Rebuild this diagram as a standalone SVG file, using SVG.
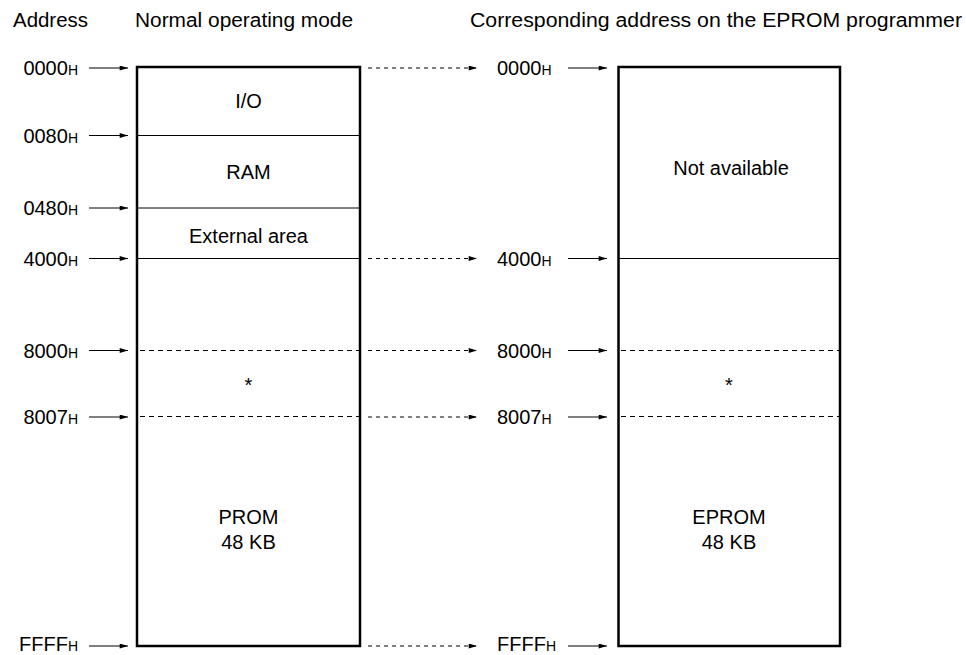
<svg xmlns="http://www.w3.org/2000/svg" width="966" height="655" viewBox="0 0 966 655">
<style>
text{font-family:"Liberation Sans",Arial,sans-serif;font-size:20px;fill:#000}
.sub{font-size:14px}
.mid{text-anchor:middle}
.end{text-anchor:end}
.box{fill:none;stroke:#000;stroke-width:2.5}
.div{stroke:#000;stroke-width:1}
.dash{stroke:#000;stroke-width:1;stroke-dasharray:5 4}
.arr{stroke:#000;stroke-width:1;marker-end:url(#ah)}
.darr{stroke:#000;stroke-width:1;stroke-dasharray:4 4;marker-end:url(#ah)}
</style>
<defs>
<marker id="ah" viewBox="0 0 10 6" refX="10" refY="3" markerWidth="10" markerHeight="5" markerUnits="userSpaceOnUse" orient="auto">
<path d="M0,0 L10,3 L0,6 z" fill="#000"/>
</marker>
</defs>
<rect width="966" height="655" fill="#fff"/>
<g id="headers">
<text x="13" y="27" textLength="75" lengthAdjust="spacingAndGlyphs">Address</text>
<text x="135" y="27" textLength="218" lengthAdjust="spacingAndGlyphs">Normal operating mode</text>
<text x="470" y="27" textLength="492" lengthAdjust="spacingAndGlyphs">Corresponding address on the EPROM programmer</text>
</g>
<g id="left-memory">
<rect class="box" x="137" y="67" width="223" height="579"/>
<line class="div" x1="137" y1="135.5" x2="360" y2="135.5"/>
<line class="div" x1="137" y1="208" x2="360" y2="208"/>
<line class="div" x1="137" y1="258.5" x2="360" y2="258.5"/>
<line class="dash" x1="140" y1="350.5" x2="360" y2="350.5"/>
<line class="dash" x1="140" y1="416.5" x2="360" y2="416.5"/>
<text class="mid" x="248.5" y="108">I/O</text>
<text class="mid" x="248.5" y="179">RAM</text>
<text class="mid" x="248.5" y="243">External area</text>
<text class="mid" x="248.5" y="392">*</text>
<text class="mid" x="248.5" y="524">PROM</text>
<text class="mid" x="248.5" y="549">48 KB</text>
</g>
<g id="right-memory">
<rect class="box" x="618.5" y="67" width="221.5" height="579"/>
<line class="div" x1="618" y1="258.5" x2="840" y2="258.5"/>
<line class="dash" x1="621" y1="350.5" x2="840" y2="350.5"/>
<line class="dash" x1="621" y1="416.5" x2="840" y2="416.5"/>
<text class="mid" x="731" y="175">Not available</text>
<text class="mid" x="729" y="392">*</text>
<text class="mid" x="729" y="524">EPROM</text>
<text class="mid" x="729" y="549">48 KB</text>
</g>
<g id="left-addresses">
<text class="end" x="78" y="75">0000<tspan class="sub">H</tspan></text>
<text class="end" x="78" y="143">0080<tspan class="sub">H</tspan></text>
<text class="end" x="78" y="215">0480<tspan class="sub">H</tspan></text>
<text class="end" x="78" y="266">4000<tspan class="sub">H</tspan></text>
<text class="end" x="78" y="358">8000<tspan class="sub">H</tspan></text>
<text class="end" x="78" y="424">8007<tspan class="sub">H</tspan></text>
<text class="end" x="78" y="650.5">FFFF<tspan class="sub">H</tspan></text>
</g>
<g id="right-addresses">
<text x="497" y="75">0000<tspan class="sub">H</tspan></text>
<text x="497" y="266">4000<tspan class="sub">H</tspan></text>
<text x="497" y="358">8000<tspan class="sub">H</tspan></text>
<text x="497" y="424">8007<tspan class="sub">H</tspan></text>
<text x="497" y="650.5">FFFF<tspan class="sub">H</tspan></text>
</g>
<g id="connectors">
<line class="arr" x1="89" y1="68" x2="128" y2="68"/>
<line class="arr" x1="89" y1="135.5" x2="128" y2="135.5"/>
<line class="arr" x1="89" y1="208" x2="128" y2="208"/>
<line class="arr" x1="89" y1="258.5" x2="128" y2="258.5"/>
<line class="arr" x1="89" y1="350.5" x2="128" y2="350.5"/>
<line class="arr" x1="89" y1="417" x2="128" y2="417"/>
<line class="arr" x1="89" y1="646" x2="128" y2="646"/>
<line class="darr" x1="368" y1="68" x2="477" y2="68"/>
<line class="darr" x1="368" y1="258.5" x2="477" y2="258.5"/>
<line class="darr" x1="368" y1="350.5" x2="477" y2="350.5"/>
<line class="darr" x1="368" y1="417" x2="477" y2="417"/>
<line class="darr" x1="368" y1="646" x2="477" y2="646"/>
<line class="arr" x1="568" y1="68" x2="607" y2="68"/>
<line class="arr" x1="568" y1="258.5" x2="607" y2="258.5"/>
<line class="arr" x1="568" y1="350.5" x2="607" y2="350.5"/>
<line class="arr" x1="568" y1="417" x2="607" y2="417"/>
<line class="arr" x1="568" y1="646" x2="607" y2="646"/>
</g>
</svg>
